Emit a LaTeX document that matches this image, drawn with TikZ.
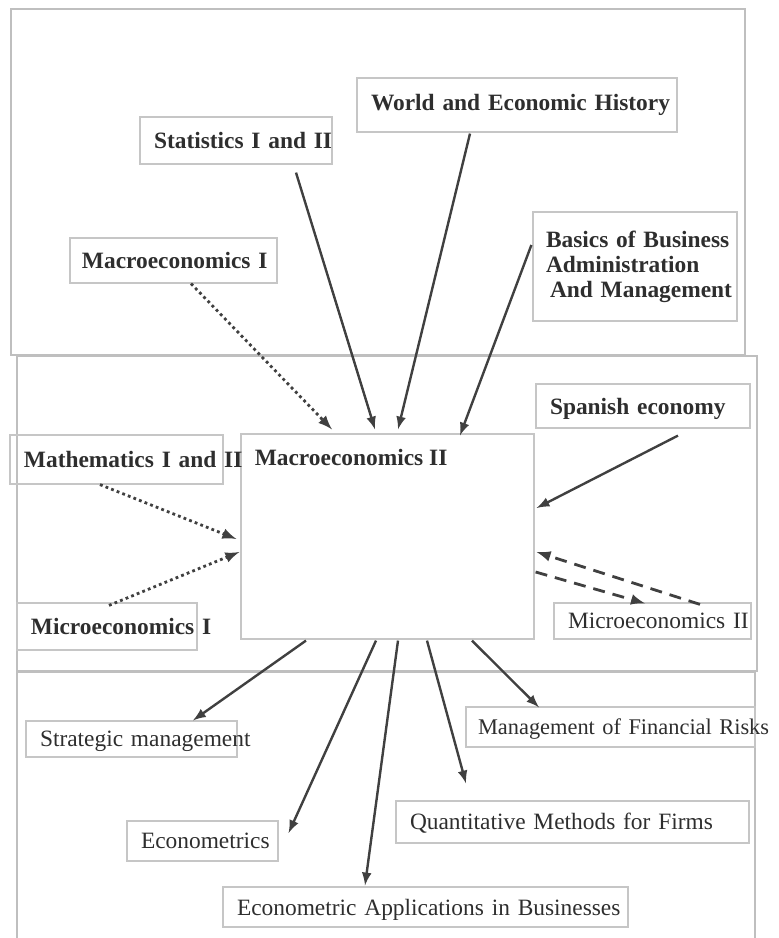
\documentclass[tikz,border=0pt]{standalone}
\usepackage{fontspec}
\setmainfont{Liberation Serif}
\usetikzlibrary{calc}

\begin{document}
\begin{tikzpicture}[
    x=0.5pt, y=0.5pt,
    panel/.style={draw=gray!50, line width=0.7pt},
    course/.style={draw=gray!45, line width=0.6pt, inner ysep=0pt, inner xsep=7pt,
        align=left, text=black!82, font=\fontsize{11.7}{12.5}\selectfont\bfseries,
        execute at begin node={\hyphenpenalty=10000\exhyphenpenalty=10000}},
    coursereg/.style={course, font=\fontsize{11.7}{12.5}\selectfont, text height=9.5pt, text depth=1.5pt},
    link/.style={line width=1.2pt, draw=black!75, -latex},
    dots/.style={link, line width=1.4pt, dash pattern=on 1.4pt off 1.6pt},
    dashes/.style={link, line width=1.4pt, dash pattern=on 6pt off 4pt},
]

\useasboundingbox (0,0) rectangle (778,938);

% Draws the three panels
\draw[panel] (11,929) rectangle (745,583);
\draw[panel] (17,582) rectangle (757,267);
\draw[panel] (17,0) |- (755,266) -- (755,0);

% Courses before Macroeconomics II
\node[course, minimum width=160pt, minimum height=27pt, text width=146pt] (world) at (517,833) {World~and~Economic~History};
\node[course, minimum width=96pt, minimum height=23.5pt, text width=82pt] (stat) at (236,797.5) {Statistics~I~and~II};
\node[course, minimum width=102pt, minimum height=54.5pt, text width=89pt, inner xsep=6.5pt] (basics) at (635,671.5)
    {Basics~of~Business\\Administration\\\hspace*{2pt}And~Management};
\node[course, minimum width=103.5pt, minimum height=22.5pt, text width=91.5pt, inner xsep=6pt] (macroi) at (173.5,677.5) {Macroeconomics~I};

% The course itself and its neighbours
\node[course, minimum width=146.5pt, minimum height=102.5pt,
    label={[anchor=north west, inner sep=0pt, xshift=7pt, yshift=-7.5pt, text=black!82,
        font=\fontsize{11.7}{12.5}\selectfont\bfseries]north west:Macroeconomics~II}] (macroii) at (387.5,401.5) {};
\node[course, minimum width=107pt, minimum height=22pt, text width=93pt, text height=9.5pt, text depth=1pt] (spanish) at (643,532) {Spanish~economy};
\node[course, minimum width=106.5pt, minimum height=24.5pt, text width=92.5pt] (math) at (116.5,478.5) {Mathematics~I~and~II};
\node[course, minimum width=90pt, minimum height=23.5pt, text width=76pt] (microi) at (107,311.5) {Microeconomics~I};
\node[coursereg, minimum width=98.5pt, minimum height=18pt, text width=84.5pt] (microii) at (652.5,317) {Microeconomics~II};

% Courses after Macroeconomics II
\node[coursereg, minimum width=105.5pt, minimum height=18pt, text width=91.5pt] (strategic) at (131.5,199) {Strategic~management};
\node[coursereg, minimum width=144.5pt, minimum height=20pt, text width=132.5pt, inner xsep=6pt,
    font=\fontsize{11.2}{12.5}\selectfont] (finrisk) at (610.5,211) {Management~of~Financial~Risks};
\node[coursereg, minimum width=176.5pt, minimum height=21pt, text width=162.5pt] (quant) at (572.5,116) {Quantitative~Methods~for~Firms};
\node[coursereg, minimum width=75.5pt, minimum height=20pt, text width=61.5pt] (econometrics) at (202.5,97) {Econometrics};
\node[coursereg, minimum width=202.5pt, minimum height=20pt, text width=188.5pt] (econapps) at (425.5,31) {Econometric~Applications~in~Businesses};

% Arrows into Macroeconomics II
\draw[dots] ($(macroi.south)+(17.5,0)$) -- ($(macroii.north)+(-55.5,4)$);
\draw[link] ($(stat.south)+(60,-8)$) -- ($(macroii.north)+(-12.5,4)$);
\draw[link] ($(world.south)+(-47,-1)$) -- ($(macroii.north)+(10.5,4)$);
\draw[link] ($(basics.west)+(-1,21.5)$) -- ($(macroii.north)+(72.5,-2)$);
\draw[link] ($(spanish.south)+(35,-7)$) -- ($(macroii.east)+(2,28.5)$);
\draw[dots] ($(math.south)+(-16.5,0)$) -- ($(macroii.west)+(-4,-2.5)$);
\draw[dots] ($(microi.north)+(2,-3)$) -- ($(macroii.west)+(-1,-15.5)$);

% Both ways with Microeconomics II
\draw[dashes] ($(microii.north)+(47.5,-2)$) -- ($(macroii.east)+(2,-15.5)$);
\draw[dashes] ($(macroii.east)+(1,-35.5)$) -- ($(microii.north)+(-7.5,-1)$);

% Arrows out of Macroeconomics II
\foreach \sx/\dst/\ex/\ey in {-81.5/strategic.north/61.5/0, -11.5/econometrics.east/10/8,
    10.5/econapps.north/-60.5/1, 39.5/quant.north/-106.5/17, 84.5/finrisk.north/-71.5/-1} {
    \draw[link] ($(macroii.south)+(\sx,-1)$) -- ($(\dst)+(\ex,\ey)$);
}

\end{tikzpicture}
\end{document}
